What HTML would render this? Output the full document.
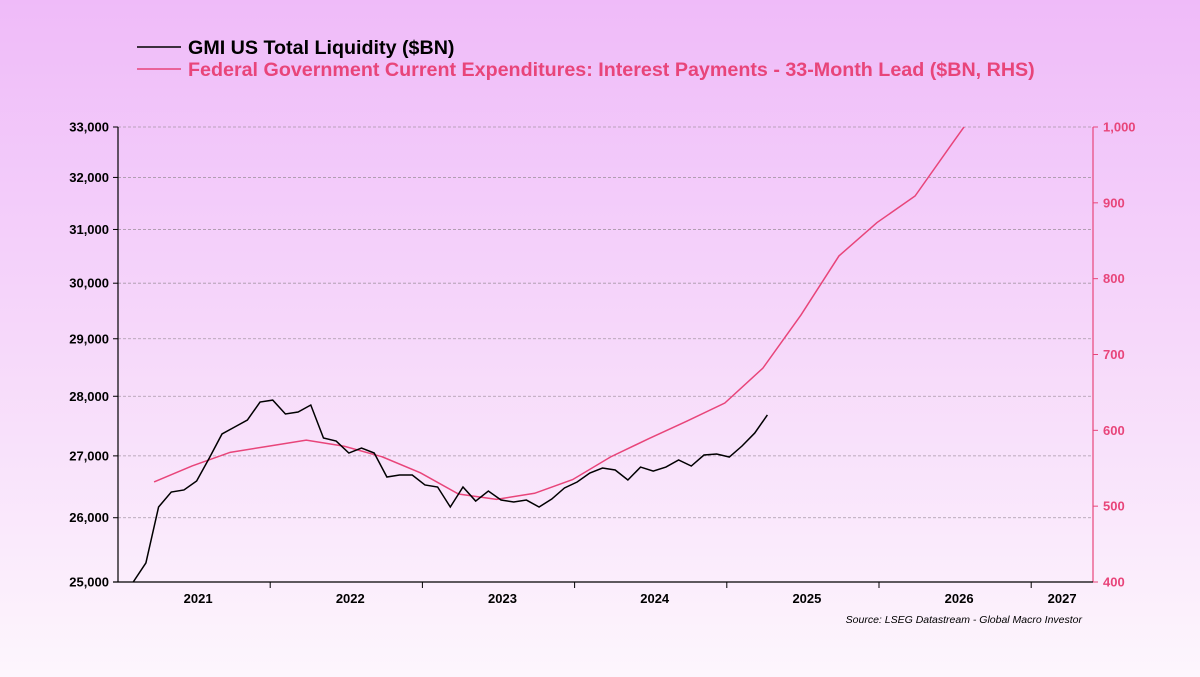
<!DOCTYPE html>
<html><head><meta charset="utf-8"><style>
html,body{margin:0;padding:0;}
body{width:1200px;height:677px;overflow:hidden;background:linear-gradient(#efbbf9 0%,#f6d8fa 50%,#fdf6fd 100%);font-family:"Liberation Sans",sans-serif;}
</style></head><body>
<svg id="chart" width="1200" height="677" xmlns="http://www.w3.org/2000/svg" style="position:absolute;left:0;top:0">
<g>
<line x1="137" y1="47" x2="181" y2="47" stroke="#000" stroke-width="1.5"/>
<text x="188" y="54" font-size="19.7" font-weight="bold" fill="#000">GMI US Total Liquidity ($BN)</text>
<line x1="137" y1="69" x2="181" y2="69" stroke="#e8457a" stroke-width="1.5"/>
<text x="188" y="76" font-size="19.7" font-weight="bold" fill="#e8457a">Federal Government Current Expenditures: Interest Payments - 33-Month Lead ($BN, RHS)</text>
</g>
<defs><clipPath id="plotclip"><rect x="118" y="127" width="975" height="455"/></clipPath></defs>
<g id="grid"></g><g id="axes"></g><g id="series" clip-path="url(#plotclip)"></g>
<text x="1082" y="623" font-size="10.5" font-style="italic" fill="#000" text-anchor="end">Source: LSEG Datastream - Global Macro Investor</text>
</svg>
<script>
const leftTicks=[25000,26000,27000,28000,29000,30000,31000,32000,33000];
const rightTicks=[400,500,600,700,800,900,1000];
const yearLabels=["2021","2022","2023","2024","2025","2026","2027"];
const liquidityStart=2020.6;
const liquidity=[25000,25292,26171,26411,26444,26589,26965,27363,27480,27596,27902,27935,27699,27732,27851,27296,27245,27047,27129,27047,26654,26686,26686,26525,26492,26171,26492,26266,26427,26282,26250,26282,26171,26298,26476,26573,26719,26800,26768,26605,26816,26751,26816,26932,26833,27014,27030,26981,27163,27378,27683];
const interestStart=2020.737;
const interest=[532,553,571,579,587,579,565,544,516,509,517,535,565,589,612,636,682,752,830,874,909,980,1050];

const NS="http://www.w3.org/2000/svg";
const X0=118,X1=1093,Y0=582,Y1=127;
function xT(t){return X0+(t-2020.5)*152.2;}
function yL(v){return Y0-Math.log(v/25000)/Math.log(33000/25000)*(Y0-Y1);}
function yR(v){return Y0-(v-400)/600*(Y0-Y1);}
function mk(tag,attrs,parent){const e=document.createElementNS(NS,tag);for(const k in attrs)e.setAttribute(k,attrs[k]);parent.appendChild(e);return e;}
const grid=document.getElementById('grid'),axes=document.getElementById('axes'),series=document.getElementById('series');
leftTicks.forEach(v=>{
  const y=yL(v);
  if(v>25000){const g=mk('line',{x1:X0,x2:X1,y1:y,y2:y,stroke:'#a898a8','stroke-width':0.8,'stroke-dasharray':'3,2'},grid);
  
  }
  const tk=mk('line',{x1:X0-5,x2:X0,y1:y,y2:y,stroke:'#000'},axes);
  
  
  const t=mk('text',{x:X0-9,y:y+4.5,'font-size':13,'font-weight':'bold','text-anchor':'end',fill:'#000'},axes);
  t.textContent=v.toLocaleString('en-US');
  
  
});
rightTicks.forEach(v=>{
  const y=yR(v);
  const tk=mk('line',{x1:X1,x2:X1+5,y1:y,y2:y,stroke:'#e8457a'},axes);
  
  
  const t=mk('text',{x:X1+10,y:y+4.5,'font-size':13,'font-weight':'bold',fill:'#e8457a'},axes);
  t.textContent=v.toLocaleString('en-US');
  
  
});
let a=mk('line',{x1:X0,x2:X0,y1:Y1,y2:Y0,stroke:'#000','stroke-width':1.2},axes);


a=mk('line',{x1:X1,x2:X1,y1:Y1,y2:Y0,stroke:'#e8457a','stroke-width':1.2},axes);


a=mk('line',{x1:X0-5,x2:X1,y1:Y0,y2:Y0,stroke:'#000','stroke-width':1.2},axes);


yearLabels.forEach((lab,i)=>{
  const yr=+lab;
  const tx=xT(yr+0.5);
  if(tx<X1){const tk=mk('line',{x1:tx,x2:tx,y1:Y0,y2:Y0+6,stroke:'#000'},axes);
  
  }
  let lx=xT(yr)+4; if(lx>X1-20) lx=(xT(yr-0.5)+X1)/2;
  const t=mk('text',{x:lx,y:603,'font-size':13,'font-weight':'bold','text-anchor':'middle',fill:'#000'},axes);
  t.textContent=lab;
  
  
});
let p=mk('polyline',{points:interest.map((v,i)=>xT(interestStart+i*0.25)+','+yR(v)).join(' '),fill:'none',stroke:'#e8457a','stroke-width':1.5},series);


p=mk('polyline',{points:liquidity.map((v,i)=>xT(liquidityStart+i/12)+','+yL(v)).join(' '),fill:'none',stroke:'#000','stroke-width':1.5},series);


</script>
</body></html>
